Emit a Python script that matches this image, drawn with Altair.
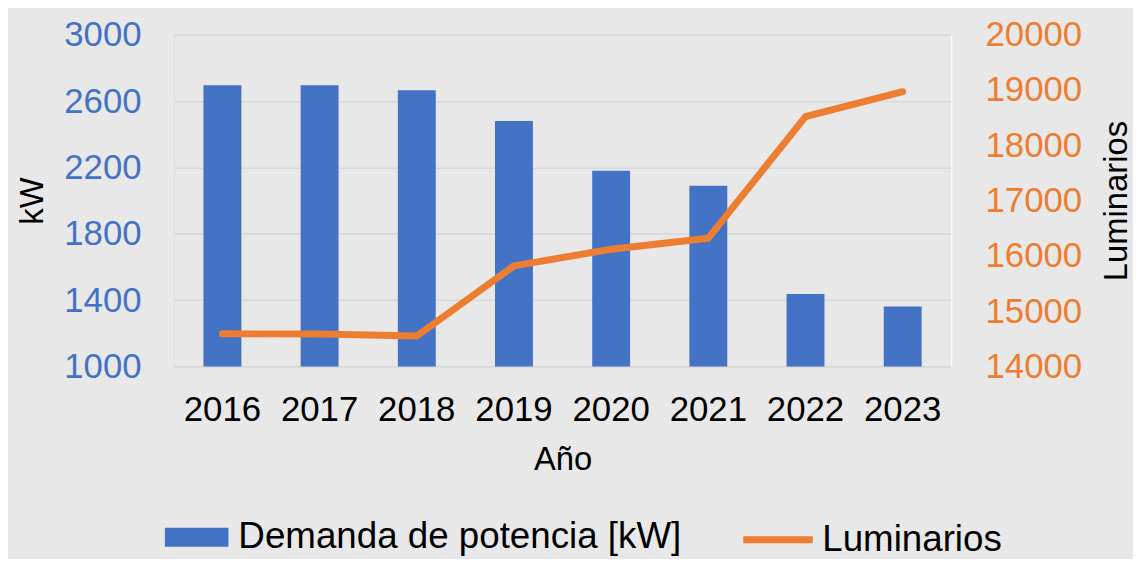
import altair as alt
import pandas as pd

years = ["2016", "2017", "2018", "2019", "2020", "2021", "2022", "2023"]
demanda_kw = [2695, 2695, 2665, 2480, 2180, 2090, 1437, 1361]
luminarios = [14590, 14585, 14550, 15820, 16120, 16320, 18520, 18970]
left_ticks = [1000, 1400, 1800, 2200, 2600, 3000]
right_ticks = [14000, 15000, 16000, 17000, 18000, 19000, 20000]

BLUE = "#4472C4"
ORANGE = "#ED7D31"
BG = "#E8E8E8"
GRID = "#D9D9D9"
FONT = "Liberation Sans"

df = pd.DataFrame({
    "Año": years,
    "kW": demanda_kw,
    "Luminarios": luminarios,
    "serie_bar": ["Demanda de potencia [kW]"] * len(years),
    "serie_line": ["Luminarios"] * len(years),
})

x = alt.X(
    "Año:N", sort=years,
    scale=alt.Scale(paddingInner=0.61, paddingOuter=0.305),
    axis=alt.Axis(title="Año", labelAngle=0, labelFontSize=35, labelColor="black",
                  labelBaseline="alphabetic", labelPadding=54, domain=False,
                  ticks=False, tickSize=0, grid=False,
                  titleFontSize=33, titleFontWeight="normal", titleColor="black",
                  titleY=104, titleBaseline="alphabetic"),
)

bars = alt.Chart(df).mark_bar(color=BLUE).encode(
    x=x,
    y=alt.Y("kW:Q", scale=alt.Scale(domain=[1000, 3000], nice=False, zero=False),
            axis=alt.Axis(title="kW", values=left_ticks, format="d", labelFontSize=35,
                          labelColor=BLUE, labelPadding=33, ticks=False, tickSize=0,
                          domain=False, grid=True, gridColor=GRID, gridWidth=1.6,
                          titleFontSize=33, titleFontWeight="normal", titleColor="black",
                          titleAngle=270, titleX=-132, titleY=167, titleAlign="center",
                          titleBaseline="alphabetic")),
    y2=alt.datum(1000),
    fill=alt.Fill("serie_bar:N", scale=alt.Scale(range=[BLUE]),
                  legend=alt.Legend(title=None, orient="none", legendX=-9, legendY=487,
                                    labelFontSize=37, labelColor="black", labelFont=FONT,
                                    labelLimit=0,
                                    symbolType="M-1,-0.5H2.368V0.5H-1Z", symbolSize=1444,
                                    symbolStrokeWidth=0, labelOffset=36, padding=0)),
)

line = alt.Chart(df).mark_line(color=ORANGE, strokeWidth=7, strokeCap="round",
                               strokeJoin="round").encode(
    x=x,
    y=alt.Y("Luminarios:Q", scale=alt.Scale(domain=[14000, 20000], nice=False, zero=False),
            axis=alt.Axis(title="Luminarios", orient="right", values=right_ticks, format="d",
                          labelFontSize=35, labelColor=ORANGE, labelPadding=34,
                          ticks=False, tickSize=0, domain=True, domainColor="white",
                          domainWidth=1.2, grid=False,
                          titleFontSize=33, titleFontWeight="normal", titleColor="black",
                          titleAngle=270, titleX=176, titleY=167, titleAlign="center",
                          titleBaseline="alphabetic")),
    stroke=alt.Stroke("serie_line:N", scale=alt.Scale(range=[ORANGE]),
                      legend=alt.Legend(title=None, orient="none", legendX=570, legendY=470,
                                        labelFontSize=37, labelColor="black", labelFont=FONT,
                                        labelLimit=0,
                                        symbolType="stroke", symbolSize=4900,
                                        symbolStrokeWidth=7, labelOffset=6, padding=0)),
)

chart = alt.layer(bars, line).resolve_scale(
    y="independent", fill="independent", stroke="independent"
).properties(
    width=783, height=334,
    autosize=alt.AutoSizeParams(type="none"),
    padding={"left": 167, "top": 25, "right": 183, "bottom": 192},
    background=BG,
).configure_view(stroke=None).configure(
    font=FONT
).configure_axis(labelFont=FONT, titleFont=FONT).configure_legend(labelFont=FONT)

chart.save("out.html", embed_options={"renderer": "svg", "actions": False})
